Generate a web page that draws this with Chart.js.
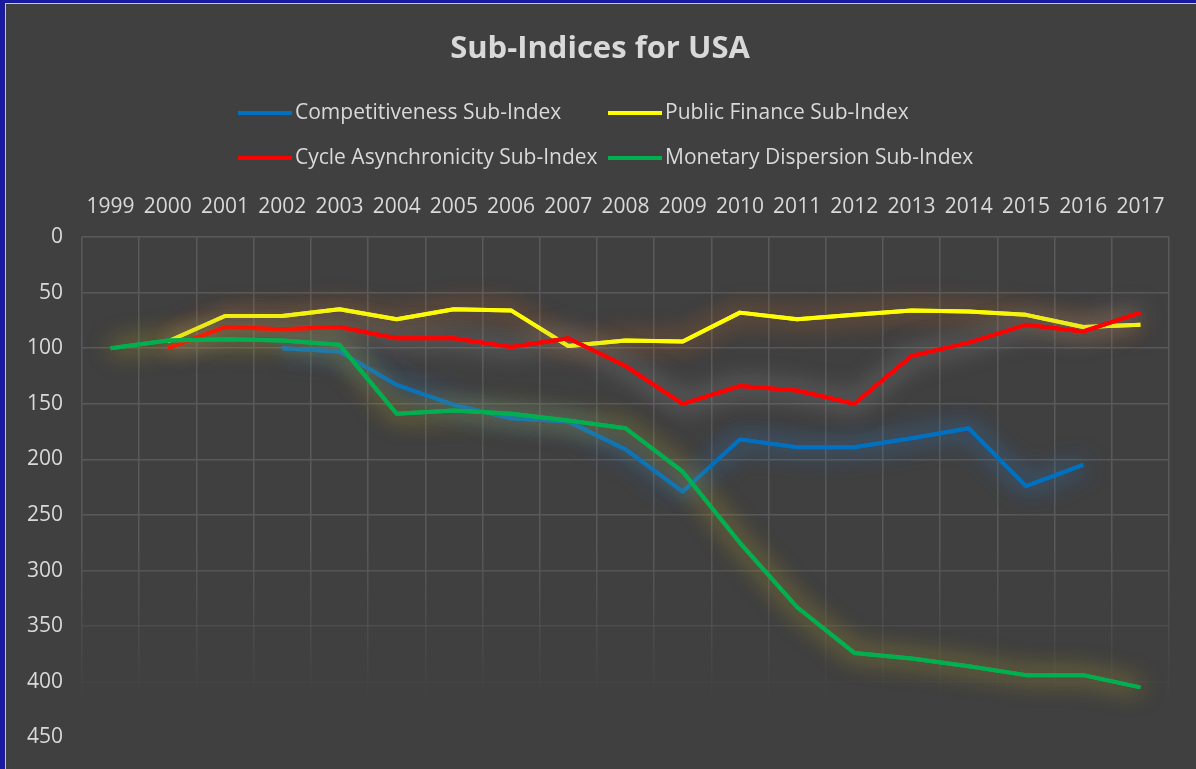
<!DOCTYPE html>
<html>
<head>
<meta charset="utf-8">
<script src="https://cdn.jsdelivr.net/npm/chart.js@4/dist/chart.umd.min.js"></script>
<style>
html,body{margin:0;padding:0;background:#1a1aa0;overflow:hidden;}
#wrap{position:absolute;left:5px;top:3px;width:1191px;height:766px;background:#404040;border-left:1px solid #c8c8c8;border-top:1px solid #c8c8c8;}
canvas{display:block;}
</style>
</head>
<body>
<div id="wrap"><canvas id="c" width="1190" height="765"></canvas></div>
<script>
// data
const years=["1999","2000","2001","2002","2003","2004","2005","2006","2007","2008","2009","2010","2011","2012","2013","2014","2015","2016","2017"];
const competitiveness=[null,null,null,100,103,133,151,163,166,191,229,182,189,189,181,172,224,205,null];
const publicFinance=[null,94,71,71,65,74,65,66,98,93,94,68,74,70,66,67,70,81,79];
const cycleAsync=[null,100,81,83,81,91,91,99,91,116,150,134,138,150,107,95,79,85,68];
const monetary=[100,93,92,93,97,159,156,159,165,172,211,275,333,374,379,386,394,394,405];
const yTicks=[0,50,100,150,200,250,300,350,400,450];

const FONT="'Open Sans', sans-serif";
const TXT="#d9d9d9";

function gridFade(c){
  const ch=c.chart, a=ch.chartArea;
  if(!a) return "rgb(89,89,89)";
  const g=ch.ctx.createLinearGradient(0,a.top,0,a.bottom);
  g.addColorStop(0,"rgba(89,89,89,1)");
  g.addColorStop(0.62,"rgba(89,89,89,1)");
  g.addColorStop(0.93,"rgba(89,89,89,0)");
  g.addColorStop(1,"rgba(89,89,89,0)");
  return g;
}

// soft halo behind each line, like the office "glow" effect
const glow={
  id:"glow",
  beforeDatasetDraw(chart,args){
    const ds=chart.data.datasets[args.index];
    const ctx=chart.ctx, meta=args.meta;
    ctx.save();
    ctx.shadowColor=ds.glowColor;
    ctx.shadowBlur=26;
    // extra pass so the halo is as dense as in the reference
    meta.dataset.draw(ctx,chart.chartArea);
  },
  afterDatasetDraw(chart){chart.ctx.restore();}
};

const head={
  id:"head",
  afterDraw(chart){
    const ctx=chart.ctx;
    ctx.save();
    ctx.fillStyle=TXT;
    ctx.font="bold 31px "+FONT;
    ctx.textAlign="center";ctx.textBaseline="middle";
    ctx.fillText("Sub-Indices for USA",594,45);
    ctx.font="21px "+FONT;
    ctx.textAlign="left";
    const cols=[232,602], rows=[109,154];
    chart.data.datasets.forEach((ds,i)=>{
      const x=cols[i%2], y=rows[Math.floor(i/2)];
      ctx.strokeStyle=ds.borderColor;ctx.lineWidth=4;
      ctx.beginPath();ctx.moveTo(x,y);ctx.lineTo(x+54,y);ctx.stroke();
      ctx.fillText(ds.label,x+57,y);
    });
    ctx.restore();
  }
};

const mk=(label,data,color,glowColor,order)=>({
  label,data,borderColor:color,backgroundColor:color,glowColor,order,
  borderWidth:4,pointRadius:0,tension:0,spanGaps:false,borderJoinStyle:"round"
});

new Chart(document.getElementById("c"),{
  type:"line",
  data:{
    labels:years,
    datasets:[
      mk("Competitiveness Sub-Index",competitiveness,"#0070c0","rgba(50,130,210,0.7)",4),
      mk("Public Finance Sub-Index",publicFinance,"#ffff00","rgba(210,110,40,0.65)",3),
      mk("Cycle Asynchronicity Sub-Index",cycleAsync,"#ff0000","rgba(150,150,150,0.75)",2),
      mk("Monetary Dispersion Sub-Index",monetary,"#00b050","rgba(200,180,40,0.7)",1)
    ]
  },
  options:{
    responsive:false,animation:false,
    layout:{padding:{top:183,right:27,bottom:28,left:0}},
    plugins:{legend:{display:false},title:{display:false},tooltip:{enabled:false}},
    scales:{
      x:{
        position:"top",offset:true,
        grid:{offset:true,color:gridFade,lineWidth:1.5,drawTicks:false},
        border:{display:false},
        ticks:{color:TXT,font:{family:FONT,size:21},padding:17,maxRotation:0,autoSkip:false},
        afterFit(s){s.height=50;}
      },
      y:{
        reverse:true,min:0,max:450,
        afterBuildTicks(s){s.ticks=yTicks.map(v=>({value:v}));},
        grid:{color:gridFade,lineWidth:1.5,drawTicks:false},
        border:{display:false},
        ticks:{color:TXT,font:{family:FONT,size:21},padding:19},
        afterFit(s){s.width=76;}
      }
    }
  },
  plugins:[glow,head]
});
</script>
</body>
</html>
